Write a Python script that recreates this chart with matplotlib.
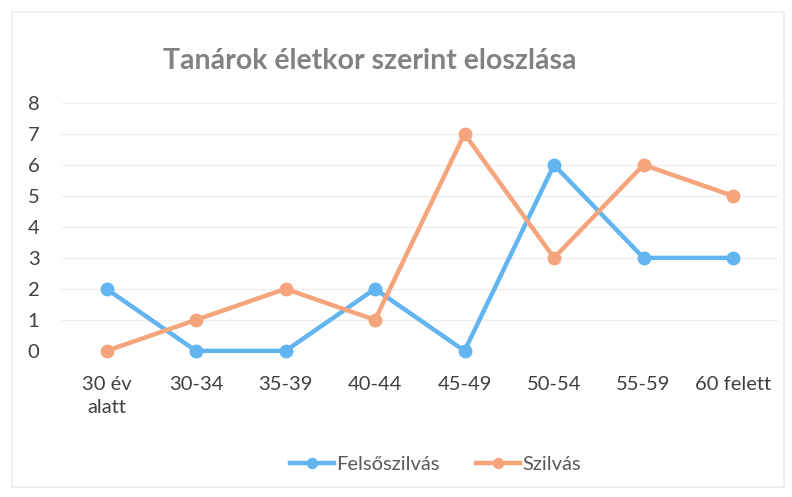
import matplotlib
matplotlib.use("Agg")
import matplotlib.pyplot as plt
from matplotlib.patches import Rectangle

# ----------------------------
# Data
# ----------------------------

categories = ["30 év\nalatt", "30-34", "35-39", "40-44", "45-49", "50-54", "55-59", "60 felett"]
felsoszilvas = [2, 0, 0, 2, 0, 6, 3, 3]
szilvas = [0, 1, 2, 1, 7, 3, 6, 5]

blue = "#62B5F0"
orange = "#F5A47C"

plt.rcParams["font.family"] = ["Lato", "DejaVu Sans"]

# ----------------------------
# Figure
# ----------------------------

fig = plt.figure(figsize=(7.92, 4.97), dpi=100)
fig.patches.append(Rectangle((0.015, 0.02), 0.975, 0.955, transform=fig.transFigure,
                             fill=False, edgecolor="#ECECEC", linewidth=1.2))

ax = fig.add_axes([0.078, 0.294, 0.904, 0.499])
x = range(len(categories))

ax.plot(x, felsoszilvas, color=blue, linewidth=3.2, marker="o", markersize=9,
        label="Felsőszilvás", zorder=3, clip_on=False)
ax.plot(x, szilvas, color=orange, linewidth=3.2, marker="o", markersize=9,
        label="Szilvás", zorder=3, clip_on=False)

ax.set_xlim(-0.5, len(categories) - 0.5)
ax.set_ylim(0, 8)
ax.set_yticks(range(0, 9))
ax.set_xticks(list(x))
ax.set_xticklabels(categories, linespacing=1.45)
ax.grid(axis="y", color="#EEEEEE", linewidth=1)
ax.set_axisbelow(True)
for s in ax.spines.values():
    s.set_visible(False)
ax.tick_params(length=0, labelsize=14.5, colors="#404040")
ax.tick_params(axis="y", pad=24.5)
for lbl in ax.get_yticklabels():
    lbl.set_horizontalalignment("left")
ax.tick_params(axis="x", pad=18)

fig.text(0.467, 0.877, "Tanárok életkor szerint eloszlása", ha="center", va="center",
         fontsize=20.5, fontweight="bold", color="#828282")

leg = fig.legend(loc="center", bbox_to_anchor=(0.55, 0.065), ncol=2, frameon=False,
                 fontsize=14.5, handlelength=2.2, handletextpad=0.1, columnspacing=1.8,
                 markerscale=0.8)
for t in leg.get_texts():
    t.set_color("#595959")

fig.savefig("out.png", dpi=100)
